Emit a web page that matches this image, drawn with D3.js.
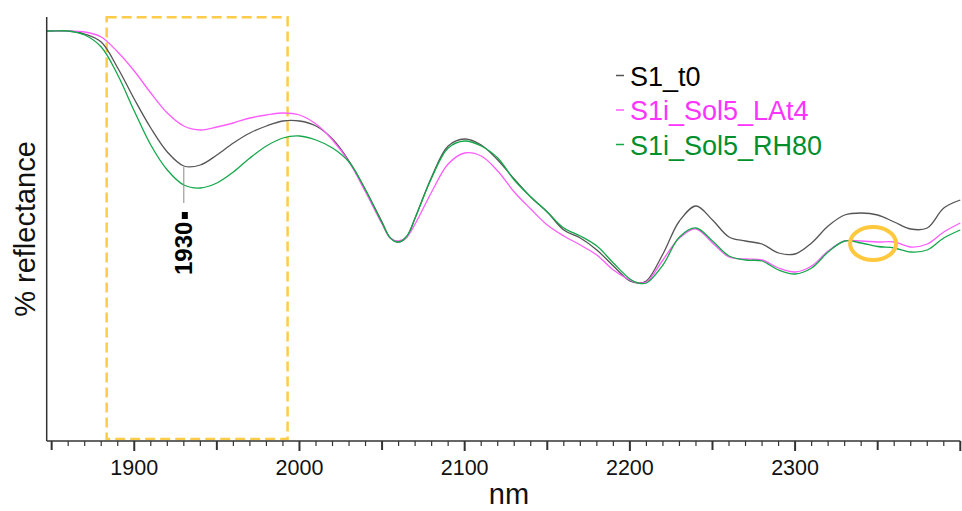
<!DOCTYPE html>
<html>
<head>
<meta charset="utf-8">
<script src="https://cdn.jsdelivr.net/npm/d3@7"></script>
<style>
  html, body { margin: 0; padding: 0; background: #fff; }
  svg { display: block; font-family: "Liberation Sans", Arial, sans-serif; }
</style>
</head>
<body>
<svg id="chart" width="962" height="511"></svg>
<script>
// Wavelengths (nm) at which the spectra are sampled
const wavelengths = [1847, 1850, 1860, 1870, 1880, 1890, 1900, 1910, 1920, 1930, 1940,
  1950, 1960, 1970, 1980, 1990, 2000, 2010, 2020, 2030, 2040, 2050, 2055, 2060, 2065,
  2070, 2080, 2090, 2100, 2110, 2120, 2130, 2140, 2150, 2160, 2170, 2180, 2190, 2200,
  2205, 2210, 2220, 2230, 2240, 2250, 2260, 2270, 2280, 2290, 2300, 2310, 2320, 2330,
  2340, 2350, 2360, 2370, 2380, 2390, 2400];

// % reflectance, one value per wavelength
const s1_t0 = [61.0, 61.0, 61.0, 60.7, 59.9, 57.3, 54.2, 51.3, 48.9, 47.5, 47.6,
  48.6, 49.8, 50.8, 51.5, 52.0, 52.0, 51.5, 50.2, 48.0, 45.1, 41.9, 40.3, 39.9, 40.4,
  42.3, 46.4, 49.5, 50.2, 49.6, 48.1, 46.2, 44.4, 42.9, 41.1, 40.3, 39.1, 37.5, 36.0,
  35.8, 36.0, 38.7, 42.0, 43.5, 42.1, 40.4, 40.0, 39.7, 38.8, 38.7, 39.8, 41.5, 42.6,
  42.8, 42.6, 41.9, 41.2, 41.3, 43.3, 44.1];

const s1i_sol5_lat4 = [61.0, 61.0, 61.0, 60.9, 60.4, 58.9, 57.0, 54.8, 52.8, 51.5, 51.1,
  51.4, 51.8, 52.3, 52.6, 52.8, 52.6, 51.7, 50.1, 47.9, 44.9, 41.7, 40.3, 40.0, 40.4,
  41.7, 44.9, 47.7, 48.8, 48.5, 47.0, 44.9, 43.2, 41.6, 40.5, 39.6, 38.6, 37.1, 36.1,
  35.8, 35.9, 38.1, 40.3, 41.2, 39.8, 38.4, 38.2, 38.1, 37.3, 36.9, 37.5, 39.0, 40.0,
  40.0, 39.9, 39.9, 39.4, 39.7, 40.9, 41.8];

const s1i_sol5_rh80 = [61.0, 61.0, 61.0, 60.6, 59.4, 56.6, 53.0, 49.6, 47.1, 45.6, 45.3,
  45.8, 46.9, 48.3, 49.5, 50.3, 50.5, 50.1, 49.3, 47.9, 45.1, 41.8, 40.3, 39.9, 40.5,
  42.3, 46.3, 49.3, 50.0, 49.5, 48.3, 46.1, 44.4, 42.9, 41.3, 40.5, 39.5, 37.8, 36.2,
  35.8, 35.8, 37.6, 40.4, 41.3, 40.0, 38.5, 38.1, 38.0, 37.1, 36.7, 37.3, 38.9, 40.0,
  39.8, 39.45, 39.3, 38.9, 39.1, 40.3, 41.1];

const seriesNames = ["S1_t0", "S1i_Sol5_LAt4", "S1i_Sol5_RH80"];
const tickLabels = [1900, 2000, 2100, 2200, 2300];

// Highlighted wavelength band and the marked band position
const bandRange = [1883.3, 1992.8];
const markedBand = 1930;
const circledPoint = [2347.2, 39.75];

const lineColors = ["#555555", "#ff5cff", "#14a84a"];
const textColors = ["#000000", "#ff33ff", "#008f2c"];

const svg = d3.select("#chart");

const x = d3.scaleLinear().domain([1847, 2400]).range([46.7, 960.3]);
const y = d3.scaleLinear().domain([20, 62.4]).range([441, 17]);

const seriesValues = [s1_t0, s1i_sol5_lat4, s1i_sol5_rh80];
const series = seriesNames.map((name, i) => ({
  name,
  values: wavelengths.map((w, j) => ({ w, v: seriesValues[i][j] }))
}));

// Highlight band (dashed box)
svg.append("rect")
  .attr("x", x(bandRange[0]))
  .attr("y", 17.3)
  .attr("width", x(bandRange[1]) - x(bandRange[0]))
  .attr("height", 439 - 17.3)
  .attr("fill", "none")
  .attr("stroke", "#ffcc4a")
  .attr("stroke-width", 2.5)
  .attr("stroke-dasharray", "10,5");

// Spectra
const line = d3.line()
  .x(d => x(d.w))
  .y(d => y(d.v))
  .curve(d3.curveCatmullRom.alpha(0.5));

svg.append("g").selectAll("path")
  .data(series)
  .join("path")
  .attr("d", d => line(d.values))
  .attr("fill", "none")
  .attr("stroke", (d, i) => lineColors[i])
  .attr("stroke-width", 1.3);

// Circled region
svg.append("ellipse")
  .attr("cx", x(circledPoint[0]))
  .attr("cy", y(circledPoint[1]))
  .attr("rx", 23)
  .attr("ry", 16.5)
  .attr("fill", "none")
  .attr("stroke", "#ffc83d")
  .attr("stroke-width", 4);

// Axes
const axisColor = "#333";
svg.append("line")
  .attr("x1", x.range()[0]).attr("x2", x.range()[0])
  .attr("y1", 17).attr("y2", 441)
  .attr("stroke", axisColor).attr("stroke-width", 1.5);
svg.append("line")
  .attr("x1", x.range()[0]).attr("x2", x.range()[1])
  .attr("y1", 441).attr("y2", 441)
  .attr("stroke", axisColor).attr("stroke-width", 1.5);

const tickValues = d3.range(1850, 2401, 10);
svg.append("g").selectAll("line")
  .data(tickValues)
  .join("line")
  .attr("x1", d => x(d)).attr("x2", d => x(d))
  .attr("y1", 441)
  .attr("y2", d => d % 100 === 0 ? 451 : d % 50 === 0 ? 450 : 446)
  .attr("stroke", axisColor)
  .attr("stroke-width", d => d % 50 === 0 ? 2 : 1.2);

svg.append("g").selectAll("text")
  .data(tickLabels)
  .join("text")
  .attr("x", d => x(d))
  .attr("y", 475)
  .attr("text-anchor", "middle")
  .attr("font-size", 21.5)
  .attr("fill", "#111")
  .text(d => d);

// Axis titles
svg.append("text")
  .attr("x", 509).attr("y", 504)
  .attr("text-anchor", "middle")
  .attr("font-size", 29)
  .attr("fill", "#111")
  .text("nm");

svg.append("text")
  .attr("transform", "translate(35,229) rotate(-90)")
  .attr("text-anchor", "middle")
  .attr("font-size", 29)
  .attr("fill", "#111")
  .text("% reflectance");

// Marked band at 1930 nm
const bx = x(markedBand);
const by = y(s1_t0[wavelengths.indexOf(markedBand)]);
svg.append("line")
  .attr("x1", bx).attr("x2", bx)
  .attr("y1", by + 1).attr("y2", 203)
  .attr("stroke", "#888").attr("stroke-width", 1);
svg.append("rect")
  .attr("x", bx - 2).attr("y", 212)
  .attr("width", 6).attr("height", 7)
  .attr("fill", "#000");
svg.append("text")
  .attr("transform", `translate(${bx + 8.5},275) rotate(-90)`)
  .attr("font-size", 24)
  .attr("font-weight", "bold")
  .attr("fill", "#000")
  .text(markedBand);

// Legend
const legend = svg.append("g").selectAll("g")
  .data(seriesNames)
  .join("g")
  .attr("transform", (d, i) => `translate(0,${85.5 + i * 34.5})`);
legend.append("line")
  .attr("x1", 616).attr("x2", 624)
  .attr("y1", -10).attr("y2", -10)
  .attr("stroke", (d, i) => lineColors[i])
  .attr("stroke-width", 1.5);
legend.append("text")
  .attr("x", 630).attr("y", 0)
  .attr("font-size", 27)
  .attr("fill", (d, i) => textColors[i])
  .text(d => d);
</script>
</body>
</html>
